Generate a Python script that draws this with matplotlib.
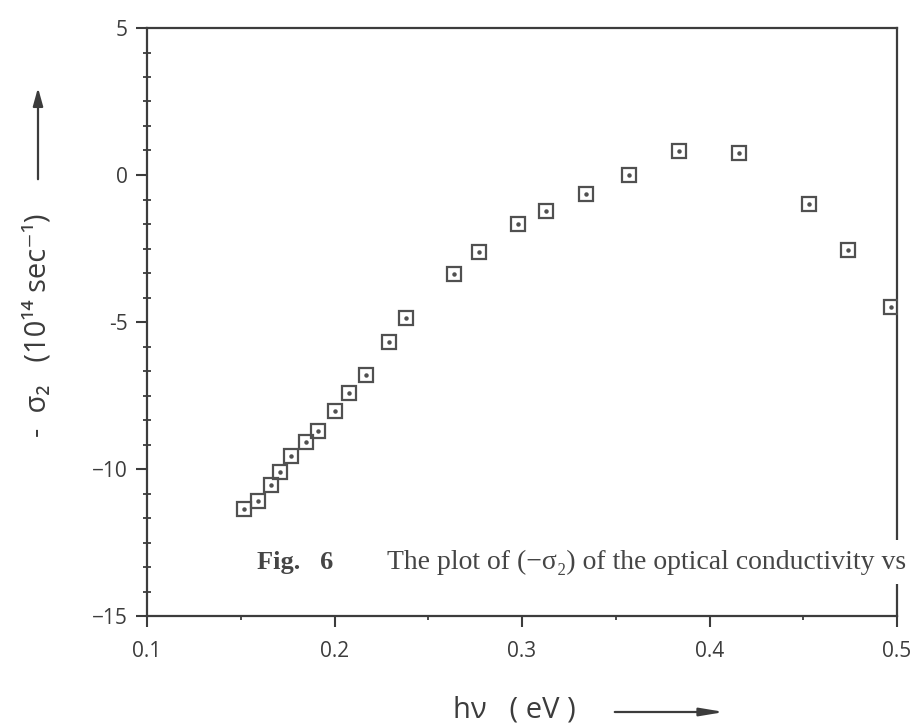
import matplotlib
matplotlib.use("Agg")
import matplotlib.pyplot as plt
from matplotlib.ticker import MultipleLocator, FixedLocator
from matplotlib.patches import FancyArrowPatch

INK = "#3c3c3c"
MARK = "#505050"
W, H = 912, 725

# photon energy h nu (eV) and -sigma_2 (10^14 s^-1)
energy = [0.152, 0.159, 0.166, 0.171, 0.177, 0.185, 0.191, 0.200, 0.208,
          0.217, 0.229, 0.238, 0.264, 0.277, 0.298, 0.313, 0.334, 0.357,
          0.384, 0.416, 0.453, 0.474, 0.497]
neg_sigma2 = [-11.37, -11.09, -10.55, -10.11, -9.55, -9.08, -8.71, -8.04, -7.42,
              -6.81, -5.69, -4.88, -3.37, -2.62, -1.67, -1.22, -0.66, 0.01,
              0.80, 0.74, -0.97, -2.56, -4.49]
xticks = [0.1, 0.2, 0.3, 0.4, 0.5]
xticklabels = ["0.1", "0.2", "0.3", "0.4", "0.5"]
yticks = [-15, -10, -5, 0, 5]
yticklabels = ["\u221215", "\u221210", "-5", "0", "5"]

plt.rcParams.update({"font.family": ["Open Sans", "DejaVu Sans"]})

fig = plt.figure(figsize=(W / 100, H / 100), dpi=100)
ax = fig.add_axes([147 / W, 1 - 616 / H, (897 - 147) / W, (616 - 28) / H])

ax.plot(energy, neg_sigma2, ls="none", marker="s", ms=10.5, mfc="none",
        mec=MARK, mew=1.6, zorder=3)
ax.plot(energy, neg_sigma2, ls="none", marker="o", ms=2.2, mfc=MARK,
        mec=MARK, zorder=4)

ax.set_xlim(0.1, 0.5)
ax.set_ylim(-15, 5)
ax.xaxis.set_major_locator(FixedLocator(xticks))
ax.set_xticklabels(xticklabels)
ax.xaxis.set_minor_locator(MultipleLocator(0.05))
ax.yaxis.set_major_locator(FixedLocator(yticks))
ax.set_yticklabels(yticklabels)
ax.yaxis.set_minor_locator(MultipleLocator(5 / 6))
ax.tick_params(which="major", direction="out", length=8, width=1.5,
               colors=INK, labelsize=15, pad=6)
ax.tick_params(axis="x", which="major", pad=10)
ax.tick_params(which="minor", direction="inout", length=6, width=1.3, colors=INK)
ax.tick_params(axis="x", which="minor", direction="out", length=3)
for side in ["left", "bottom", "top", "right"]:
    ax.spines[side].set_color(INK)
    ax.spines[side].set_linewidth(1.6)


def fx(px):
    return px / W


def fy(py):
    return 1 - py / H


# axis titles with their little direction arrows
fig.text(fx(38), fy(325), "-  \u03c3\u2082   (10\u00b9\u2074 sec\u207b\u00b9)",
         rotation=90, ha="center", va="center", fontsize=21, color=INK)
fig.add_artist(FancyArrowPatch((fx(38), fy(182)), (fx(38), fy(85)),
               transform=fig.transFigure, arrowstyle="-|>,head_length=0.9,head_width=0.25",
               mutation_scale=12, lw=1.6, color=INK))
fig.text(fx(514), fy(710), "h\u03bd   ( eV )", ha="center", va="center",
         fontsize=21, color=INK)
fig.add_artist(FancyArrowPatch((fx(612), fy(712)), (fx(727), fy(712)),
               transform=fig.transFigure, arrowstyle="-|>,head_length=1.2,head_width=0.2",
               mutation_scale=12, lw=1.6, color=INK))

# printed caption overlapping the frame (breaks the right spine)
fig.text(fx(257), fy(562), "Fig.   6", ha="left", va="center", fontsize=19,
         family="Liberation Serif", weight="bold", color="#454545")
fig.text(fx(387), fy(562), "The plot of (\u2212\u03c3\u2082) of the optical conductivity vs",
         ha="left", va="center", fontsize=20, family="Liberation Serif", color="#454545",
         bbox=dict(fc="white", ec="none", pad=7))

fig.savefig("out.png", dpi=100, facecolor="white")
